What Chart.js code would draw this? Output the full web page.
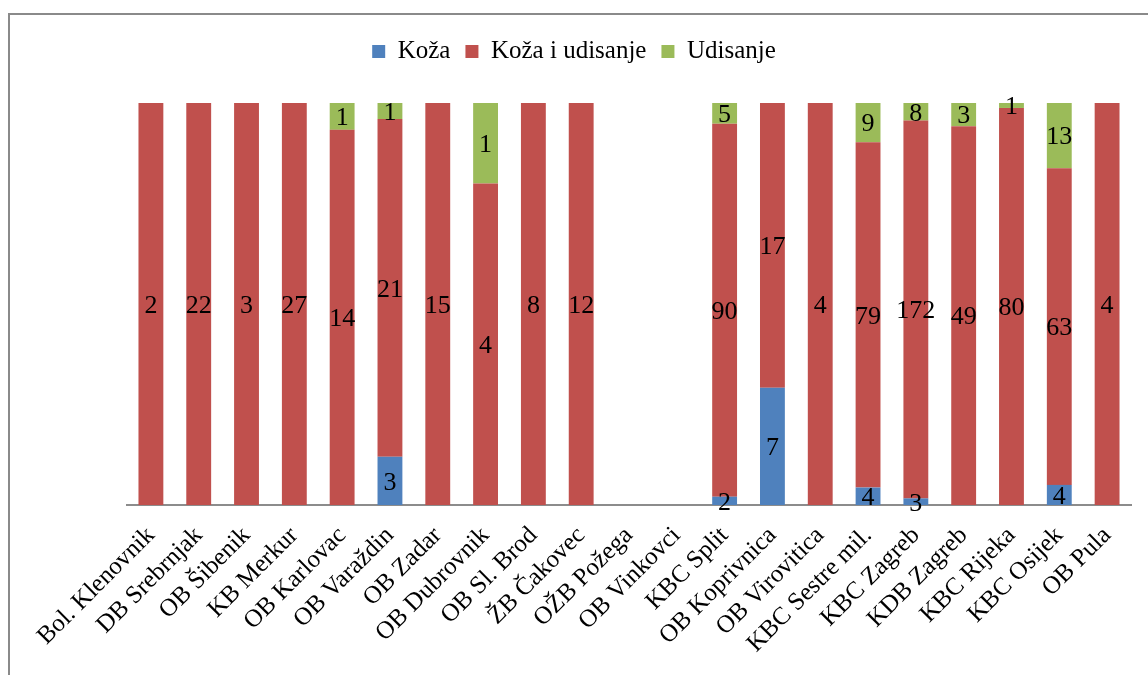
<!DOCTYPE html>
<html>
<head>
<meta charset="utf-8">
<script src="https://cdn.jsdelivr.net/npm/chart.js@4/dist/chart.umd.min.js"></script>
<style>
  body { margin: 0; background: #fff; }
  #wrap { position: relative; width: 1148px; height: 675px; overflow: hidden; }
  #frame { position: absolute; left: 8px; top: 13px; width: 1300px; height: 800px;
           border-left: 2px solid #8a8a8a; border-top: 2px solid #8a8a8a; }
  canvas { position: absolute; left: 0; top: 0; }
</style>
</head>
<body>
<div id="wrap">
  <div id="frame"></div>
  <canvas id="chart" width="1148" height="675"></canvas>
</div>
<script>
const categories = ['Bol. Klenovnik', 'DB Srebrnjak', 'OB Šibenik', 'KB Merkur', 'OB Karlovac',
    'OB Varaždin', 'OB Zadar', 'OB Dubrovnik', 'OB Sl. Brod', 'ŽB Čakovec', 'OŽB Požega',
    'OB Vinkovci', 'KBC Split', 'OB Koprivnica', 'OB Virovitica', 'KBC Sestre mil.',
    'KBC Zagreb', 'KDB Zagreb', 'KBC Rijeka', 'KBC Osijek', 'OB Pula'];
const koza =          [0, 0, 0, 0, 0, 3, 0, 0, 0, 0, 0, 0, 2, 7, 0, 4, 3, 0, 0, 4, 0];
const kozaUdisanje =  [2, 22, 3, 27, 14, 21, 15, 4, 8, 12, 0, 0, 90, 17, 4, 79, 172, 49, 80, 63, 4];
const udisanje =      [0, 0, 0, 0, 1, 1, 0, 1, 0, 0, 0, 0, 5, 0, 0, 9, 8, 3, 1, 13, 0];

const serif = '"Liberation Serif", "Times New Roman", serif';

// share of each category (100% stacked)
function pct(arr) {
    return arr.map(function (v, i) {
        const tot = koza[i] + kozaUdisanje[i] + udisanje[i];
        return tot ? v / tot * 100 : 0;
    });
}

const segLabels = {
    id: 'segLabels',
    afterDatasetsDraw(chart) {
        const ctx = chart.ctx;
        ctx.save();
        ctx.font = '26px ' + serif;
        ctx.fillStyle = '#000';
        ctx.textAlign = 'center';
        ctx.textBaseline = 'middle';
        chart.data.datasets.forEach(function (ds, di) {
            const meta = chart.getDatasetMeta(di);
            meta.data.forEach(function (el, i) {
                const v = ds.raw[i];
                if (!v) return;
                ctx.fillText(String(v), el.x, (el.y + el.base) / 2 + 2);
            });
        });
        ctx.restore();
    }
};

// extra room under the legend, and legend centred on the whole canvas
const legendGap = {
    id: 'legendGap',
    beforeInit(chart) {
        const fit = chart.legend.fit;
        chart.legend.fit = function () {
            fit.bind(chart.legend)();
            this.height += 29;
        };
    },
    afterLayout(chart) {
        chart.legend.left -= 55;
        chart.legend.right -= 55;
    }
};

var ctx = document.getElementById('chart');
new Chart(ctx, {
    type: 'bar',
    data: {
        labels: categories,
        datasets: [
            { label: 'Koža', data: pct(koza), raw: koza, backgroundColor: '#4F81BD' },
            { label: 'Koža i udisanje', data: pct(kozaUdisanje), raw: kozaUdisanje, backgroundColor: '#C0504D' },
            { label: 'Udisanje', data: pct(udisanje), raw: udisanje, backgroundColor: '#9BBB59' }
        ]
    },
    options: {
        responsive: false,
        animation: false,
        maintainAspectRatio: false,
        layout: { padding: { left: 127, right: 17, top: 24, bottom: 0 } },
        datasets: { bar: { barPercentage: 0.52, categoryPercentage: 1.0 } },
        plugins: {
            tooltip: { enabled: false },
            legend: {
                position: 'top',
                labels: {
                    boxWidth: 13,
                    boxHeight: 13,
                    padding: 15,
                    color: '#000',
                    font: { family: serif, size: 25 }
                }
            }
        },
        scales: {
            x: {
                stacked: true,
                grid: { display: false },
                border: { display: true, color: '#8c8c8c', width: 2 },
                ticks: {
                    color: '#000',
                    font: { family: serif, size: 25 },
                    minRotation: 45,
                    maxRotation: 45,
                    autoSkip: false,
                    padding: 8
                },
                afterFit: function (s) { s.height = 170; }
            },
            y: {
                stacked: true,
                display: false,
                min: 0,
                max: 100
            }
        }
    },
    plugins: [segLabels, legendGap]
});
</script>
</body>
</html>
